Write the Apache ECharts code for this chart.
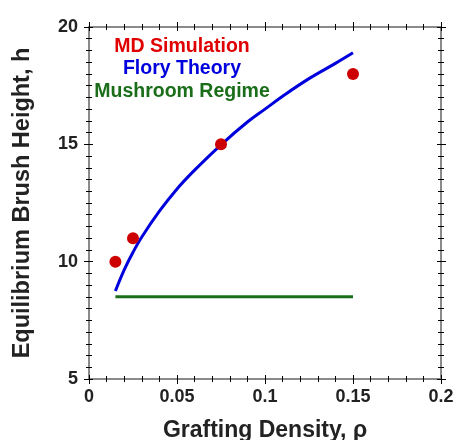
<!DOCTYPE html>
<html>
<head>
<meta charset="utf-8">
<script src="https://cdn.jsdelivr.net/npm/echarts@6/dist/echarts.min.js"></script>
<style>html,body{margin:0;padding:0;background:#fff}#c{width:453px;height:440px}</style>
</head>
<body>
<div id="c"></div>
<script>
// MD simulation points (grafting density, height)
var mdX = [0.015, 0.025, 0.075, 0.15];
var mdY = [10.0, 11.0, 15.0, 18.0];
// Flory theory curve
var floryX = [0.015, 0.02, 0.025, 0.03, 0.04, 0.05, 0.06, 0.075, 0.09, 0.1, 0.11, 0.125, 0.14, 0.15];
var floryY = [8.75, 9.65, 10.4, 11.05, 12.15, 13.1, 13.9, 14.98, 15.95, 16.5, 17.05, 17.8, 18.45, 18.9];
// Mushroom regime line
var mushX = [0.015, 0.15];
var mushY = [8.5, 8.5];
var labels = ["MD Simulation", "Flory Theory", "Mushroom Regime"];
var labelColors = ["#e00000", "#0000dd", "#1a6e1a"];

function pairs(xs, ys){ return xs.map(function(x,i){return [x, ys[i]];}); }

var FONT = 'Liberation Sans, Arial, sans-serif';
var lineCol = '#8a8a8a';

function xAx(pos, inside, main){
  return {
    type:'value', position:pos, min:0, max:0.2, interval:0.05,
    axisLine:{show:main, onZero:false, lineStyle:{color:lineCol, width:2}},
    axisTick:{show:true, inside:inside, length: inside?4:5, lineStyle:{color:'#000', width:1}},
    minorTick:{show:true, splitNumber:5, length:3, lineStyle:{color:'#000', width:1}},
    splitLine:{show:false},
    axisLabel:{show: main && pos==='bottom' && !inside ? true : false, fontFamily:FONT, fontWeight:'bold', fontSize:18, color:'#222', margin:9},
    name: (pos==='bottom' && main && !inside) ? 'Grafting Density, ρ' : '',
    nameLocation:'middle', nameGap:40,
    nameTextStyle:{fontFamily:FONT, fontWeight:'bold', fontSize:23, color:'#222'}
  };
}
function yAx(pos, inside, main){
  return {
    type:'value', position:pos, min:5, max:20, interval:5,
    axisLine:{show:main, onZero:false, lineStyle:{color:lineCol, width:2}},
    axisTick:{show:true, inside:inside, length: inside?4:5, lineStyle:{color:'#000', width:1}},
    minorTick:{show:true, splitNumber:10, length:3, lineStyle:{color:'#000', width:1}},
    splitLine:{show:false},
    axisLabel:{show: main && pos==='left' && !inside ? true : false, fontFamily:FONT, fontWeight:'bold', fontSize:18, color:'#222', margin:11},
    name: (pos==='left' && main && !inside) ? 'Equilibrium Brush Height, h' : '',
    nameLocation:'middle', nameGap:54,
    nameTextStyle:{fontFamily:FONT, fontWeight:'bold', fontSize:23.5, color:'#222'}
  };
}

var chart = echarts.init(document.getElementById('c'), null, {renderer:'canvas'});
chart.setOption({
  animation:false,
  backgroundColor:'#fff',
  grid:{left:89, top:27, width:352, height:352, containLabel:false, outerBoundsMode:'none'},
  xAxis:[xAx('bottom', false, true), xAx('bottom', true, false), xAx('top', false, true), xAx('top', true, false)],
  yAxis:[yAx('left', false, true), yAx('left', true, false), yAx('right', false, true), yAx('right', true, false)],
  series:[
    {type:'line', data:pairs(mushX, mushY), showSymbol:false, symbol:'none', lineStyle:{color:labelColors[2], width:3}, z:2},
    {type:'line', data:pairs(floryX, floryY), smooth:0.4, showSymbol:false, symbol:'none', lineStyle:{color:labelColors[1], width:3}, z:3},
    {type:'scatter', data:pairs(mdX, mdY), symbol:'circle', symbolSize:12, itemStyle:{color:'#cc0000', opacity:1}, z:4}
  ],
  graphic:[0,1,2].map(function(i){
    return {type:'text', x:182, y:46.5+22.5*i, style:{text:labels[i], fill:labelColors[i], font:'bold 19.5px '+FONT, textAlign:'center', textVerticalAlign:'middle'}, z:10};
  })
});
</script>
</body>
</html>
